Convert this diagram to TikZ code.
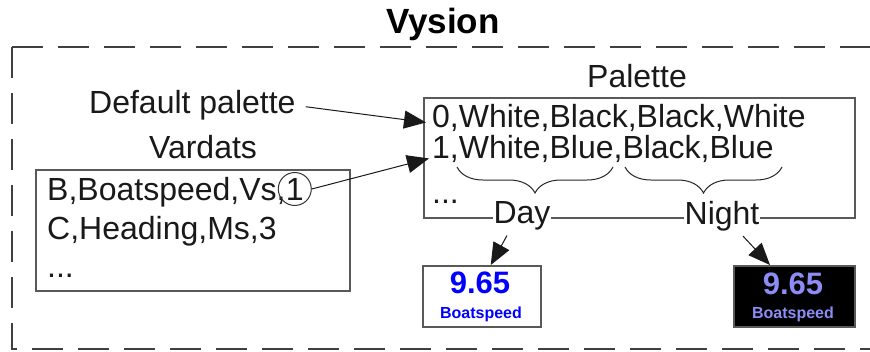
\documentclass[tikz,border=0pt]{standalone}
\usepackage{fontspec}
\setmainfont{Liberation Sans}
\usetikzlibrary{calc,positioning}
\usetikzlibrary{arrows.meta}
\usetikzlibrary{decorations.pathreplacing}
\definecolor{nightblue}{RGB}{140,140,245}

\begin{document}
\begin{tikzpicture}[x=1pt,y=-1pt]
      \tikzstyle{tnode} = [inner sep=0pt, anchor=base west, text=black!90, font=\fontsize{32}{32}\selectfont]
      \tikzstyle{lnode} = [inner sep=0pt, anchor=base, text=black!90, font=\fontsize{32}{32}\selectfont]
      \tikzstyle{bnode} = [draw=black!65, line width=1.5pt, anchor=north west, inner sep=0pt]
      \tikzstyle{vnode} = [inner sep=0pt, anchor=base, font=\bfseries\fontsize{31}{31}\selectfont]
      \tikzstyle{snode} = [inner sep=0pt, anchor=base, font=\bfseries\fontsize{16}{16}\selectfont]
      \tikzstyle{arr} = [-{Triangle[width=18pt,length=22pt]}, line width=1pt, black!90]

      \useasboundingbox (0,0) rectangle (870,351);
      \clip (0,0) rectangle (870,351);

      %%%%%%%%%%%%%%%%%%%%%%%%%%%%%%
      %% The Vysion frame
      %%%%%%%%%%%%%%%%%%%%%%%%%%%%%%
      \node[inner sep=0pt, anchor=base, font=\bfseries\fontsize{35}{35}\selectfont] (title) at (443,33) {Vysion};
      \draw[black!75, line width=2pt, dash pattern=on 31pt off 15pt] (12,47) -- (880,47);
      \draw[black!75, line width=2pt, dash pattern=on 31pt off 15pt] (12,47) -- (12,349) -- (880,349);

      %%%%%%%%%%%%%%%%%%%%%%%%%%%%%%
      %% Vardats
      %%%%%%%%%%%%%%%%%%%%%%%%%%%%%%
      \node[bnode, minimum width=314pt, minimum height=121pt] (vardats) at (35,169) {};
      \node[lnode] (vlabel) at (203,158) {Vardats};
      \node[tnode] (v0) at (47,200) {B,Boatspeed,Vs,};
      \node[lnode, circle, draw=black!80, line width=1pt, minimum size=33pt] (one) at ([xshift=9pt]v0.base east) {1};
      \node[tnode] (v1) at (47,239) {C,Heading,Ms,3};
      \node[tnode] (v2) at (47,277) {...};

      %%%%%%%%%%%%%%%%%%%%%%%%%%%%%%
      %% Palette
      %%%%%%%%%%%%%%%%%%%%%%%%%%%%%%
      \node[bnode, minimum width=431pt, minimum height=120pt] (palette) at (423,97) {};
      \node[lnode] (plabel) at (637,87) {Palette};
      \node[tnode] (p0) at (432,127) {0,White,Black,Black,White};
      \node[tnode] (p1) at (432,158) {1,White,Blue,Black,Blue};
      \node[tnode] (p2) at (432,203) {...};

      \draw[decorate, decoration={brace, mirror, amplitude=26pt}, line width=1pt, black!85] (457,167) -- (613,167);
      \draw[decorate, decoration={brace, mirror, amplitude=26pt}, line width=1pt, black!85] (625,167) -- (782,167);

      \node[lnode, anchor=center, fill=white, inner xsep=1pt, inner ysep=3pt] (day) at (522,216) {Day};
      \node[lnode, anchor=center, fill=white, inner xsep=1pt, inner ysep=3pt] (night) at (722,216) {Night};

      \node[tnode] (deflabel) at (89,113) {Default palette};

      %%%%%%%%%%%%%%%%%%%%%%%%%%%%%%
      %% The two displays
      %%%%%%%%%%%%%%%%%%%%%%%%%%%%%%
      \node[bnode, minimum width=118pt, minimum height=61pt] (daybox) at (422,265) {};
      \node[vnode, text=blue] (dayval) at (480,293) {9.65};
      \node[snode, text=blue] (dayname) at (481,318) {Boatspeed};

      \node[bnode, fill=black, minimum width=121pt, minimum height=61pt] (nightbox) at (733,265) {};
      \node[vnode, text=nightblue] (nightval) at (793,294) {9.65};
      \node[snode, text=nightblue] (nightname) at (793,318) {Boatspeed};

      % arrows
      \draw[arr] ([xshift=10pt,yshift=-2pt]deflabel.east) -- ([xshift=-6pt,yshift=-5pt]p0.west);
      \draw[arr] (one.east) -- ([xshift=-3pt,yshift=-10pt]p1.west);
      \draw[arr] ([xshift=-15pt,yshift=-2pt]day.south) -- ([xshift=9pt]daybox.north);
      \draw[arr] ([xshift=21pt,yshift=-2pt]night.south) -- ([xshift=37pt]nightbox.north west);

\end{tikzpicture}
\end{document}
